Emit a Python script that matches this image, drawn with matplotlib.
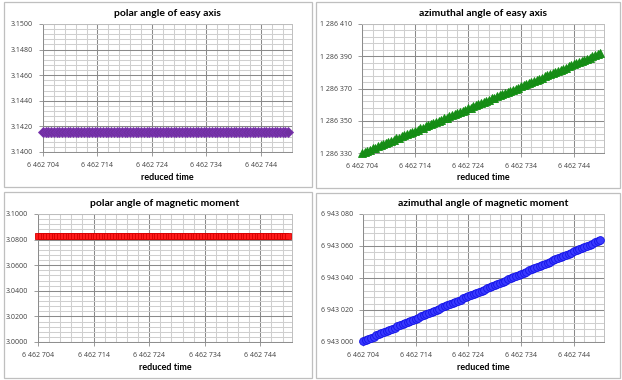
import matplotlib
matplotlib.use("Agg")
import matplotlib.pyplot as plt
from matplotlib.patches import Rectangle
from matplotlib.ticker import FixedLocator, FuncFormatter

plt.rcParams['font.family'] = ['Lato', 'DejaVu Sans']

# ---------------- data ----------------
reduced_time = [
    6462704.0, 6462704.5, 6462705.0, 6462705.5, 6462706.0, 6462706.5, 6462707.0, 6462707.5, 6462708.0, 6462708.5,
    6462709.0, 6462709.5, 6462710.0, 6462710.5, 6462711.0, 6462711.5, 6462712.0, 6462712.5, 6462713.0, 6462713.5,
    6462714.0, 6462714.5, 6462715.0, 6462715.5, 6462716.0, 6462716.5, 6462717.0, 6462717.5, 6462718.0, 6462718.5,
    6462719.0, 6462719.5, 6462720.0, 6462720.5, 6462721.0, 6462721.5, 6462722.0, 6462722.5, 6462723.0, 6462723.5,
    6462724.0, 6462724.5, 6462725.0, 6462725.5, 6462726.0, 6462726.5, 6462727.0, 6462727.5, 6462728.0, 6462728.5,
    6462729.0, 6462729.5, 6462730.0, 6462730.5, 6462731.0, 6462731.5, 6462732.0, 6462732.5, 6462733.0, 6462733.5,
    6462734.0, 6462734.5, 6462735.0, 6462735.5, 6462736.0, 6462736.5, 6462737.0, 6462737.5, 6462738.0, 6462738.5,
    6462739.0, 6462739.5, 6462740.0, 6462740.5, 6462741.0, 6462741.5, 6462742.0, 6462742.5, 6462743.0, 6462743.5,
    6462744.0, 6462744.5, 6462745.0, 6462745.5, 6462746.0, 6462746.5, 6462747.0, 6462747.5, 6462748.0, 6462748.5,
    6462749.0,
]

polar_easy = [
    3.1416, 3.1416, 3.1416, 3.1416, 3.1416, 3.1416, 3.1416, 3.1416, 3.1416, 3.1416,
    3.1416, 3.1416, 3.1416, 3.1416, 3.1416, 3.1416, 3.1416, 3.1416, 3.1416, 3.1416,
    3.1416, 3.1416, 3.1416, 3.1416, 3.1416, 3.1416, 3.1416, 3.1416, 3.1416, 3.1416,
    3.1416, 3.1416, 3.1416, 3.1416, 3.1416, 3.1416, 3.1416, 3.1416, 3.1416, 3.1416,
    3.1416, 3.1416, 3.1416, 3.1416, 3.1416, 3.1416, 3.1416, 3.1416, 3.1416, 3.1416,
    3.1416, 3.1416, 3.1416, 3.1416, 3.1416, 3.1416, 3.1416, 3.1416, 3.1416, 3.1416,
    3.1416, 3.1416, 3.1416, 3.1416, 3.1416, 3.1416, 3.1416, 3.1416, 3.1416, 3.1416,
    3.1416, 3.1416, 3.1416, 3.1416, 3.1416, 3.1416, 3.1416, 3.1416, 3.1416, 3.1416,
    3.1416, 3.1416, 3.1416, 3.1416, 3.1416, 3.1416, 3.1416, 3.1416, 3.1416, 3.1416,
    3.1416,
]

azimuthal_easy = [
    1286330.0, 1286330.7, 1286331.4, 1286332.1, 1286332.8, 1286333.4, 1286334.1, 1286334.8, 1286335.5, 1286336.2,
    1286336.9, 1286337.6, 1286338.3, 1286339.0, 1286339.6, 1286340.3, 1286341.0, 1286341.7, 1286342.4, 1286343.1,
    1286343.8, 1286344.5, 1286345.2, 1286345.8, 1286346.5, 1286347.2, 1286347.9, 1286348.6, 1286349.3, 1286350.0,
    1286350.7, 1286351.4, 1286352.0, 1286352.7, 1286353.4, 1286354.1, 1286354.8, 1286355.5, 1286356.2, 1286356.9,
    1286357.6, 1286358.2, 1286358.9, 1286359.6, 1286360.3, 1286361.0, 1286361.7, 1286362.4, 1286363.1, 1286363.8,
    1286364.4, 1286365.1, 1286365.8, 1286366.5, 1286367.2, 1286367.9, 1286368.6, 1286369.3, 1286370.0, 1286370.6,
    1286371.3, 1286372.0, 1286372.7, 1286373.4, 1286374.1, 1286374.8, 1286375.5, 1286376.2, 1286376.8, 1286377.5,
    1286378.2, 1286378.9, 1286379.6, 1286380.3, 1286381.0, 1286381.7, 1286382.4, 1286383.0, 1286383.7, 1286384.4,
    1286385.1, 1286385.8, 1286386.5, 1286387.2, 1286387.9, 1286388.6, 1286389.2, 1286389.9, 1286390.6, 1286391.3,
    1286392.0,
]

polar_moment = [
    3.0832, 3.0832, 3.0832, 3.0832, 3.0832, 3.0832, 3.0832, 3.0832, 3.0832, 3.0832,
    3.0832, 3.0832, 3.0832, 3.0832, 3.0832, 3.0832, 3.0832, 3.0832, 3.0832, 3.0832,
    3.0832, 3.0832, 3.0832, 3.0832, 3.0832, 3.0832, 3.0832, 3.0832, 3.0832, 3.0832,
    3.0832, 3.0832, 3.0832, 3.0832, 3.0832, 3.0832, 3.0832, 3.0832, 3.0832, 3.0832,
    3.0832, 3.0832, 3.0832, 3.0832, 3.0832, 3.0832, 3.0832, 3.0832, 3.0832, 3.0832,
    3.0832, 3.0832, 3.0832, 3.0832, 3.0832, 3.0832, 3.0832, 3.0832, 3.0832, 3.0832,
    3.0832, 3.0832, 3.0832, 3.0832, 3.0832, 3.0832, 3.0832, 3.0832, 3.0832, 3.0832,
    3.0832, 3.0832, 3.0832, 3.0832, 3.0832, 3.0832, 3.0832, 3.0832, 3.0832, 3.0832,
    3.0832, 3.0832, 3.0832, 3.0832, 3.0832, 3.0832, 3.0832, 3.0832, 3.0832, 3.0832,
    3.0832,
]

azimuthal_moment = [
    6943000.6, 6943001.3, 6943002.0, 6943002.7, 6943003.4, 6943004.1, 6943004.8, 6943005.5, 6943006.2, 6943006.9,
    6943007.6, 6943008.3, 6943009.0, 6943009.7, 6943010.4, 6943011.1, 6943011.8, 6943012.5, 6943013.2, 6943013.9,
    6943014.6, 6943015.3, 6943016.0, 6943016.7, 6943017.4, 6943018.1, 6943018.8, 6943019.5, 6943020.2, 6943020.9,
    6943021.6, 6943022.3, 6943023.0, 6943023.7, 6943024.4, 6943025.1, 6943025.8, 6943026.5, 6943027.2, 6943027.9,
    6943028.6, 6943029.3, 6943030.0, 6943030.7, 6943031.4, 6943032.1, 6943032.8, 6943033.5, 6943034.2, 6943034.9,
    6943035.6, 6943036.3, 6943037.0, 6943037.7, 6943038.4, 6943039.1, 6943039.8, 6943040.5, 6943041.2, 6943041.9,
    6943042.6, 6943043.3, 6943044.0, 6943044.7, 6943045.4, 6943046.1, 6943046.8, 6943047.5, 6943048.2, 6943048.9,
    6943049.6, 6943050.3, 6943051.0, 6943051.7, 6943052.4, 6943053.1, 6943053.8, 6943054.5, 6943055.2, 6943055.9,
    6943056.6, 6943057.3, 6943058.0, 6943058.7, 6943059.4, 6943060.1, 6943060.8, 6943061.5, 6943062.2, 6943062.9,
    6943063.6,
]

titles = ["polar angle of easy axis", "azimuthal angle of easy axis",
          "polar angle of magnetic moment", "azimuthal angle of magnetic moment"]
x_label = "reduced time"
x_ticks = [6462704, 6462714, 6462724, 6462734, 6462744]
y_ticks_polar_easy = [3.1400, 3.1420, 3.1440, 3.1460, 3.1480, 3.1500]
y_ticks_az_easy = [1286330, 1286350, 1286370, 1286390, 1286410]
y_ticks_polar_moment = [3.0000, 3.0200, 3.0400, 3.0600, 3.0800, 3.1000]
y_ticks_az_moment = [6943000, 6943020, 6943040, 6943060, 6943080]

# ---------------- layout ----------------
W, H = 622, 380
fig = plt.figure(figsize=(W / 100, H / 100), dpi=100)
fig.patch.set_facecolor("white")


def fbox(l, t, r, b):
    return [l / W, 1 - b / H, (r - l) / W, (b - t) / H]


panels = [(4, 2, 312, 187), (316, 2, 620, 188), (4, 192, 312, 378), (316, 193, 620, 378)]
for (l, t, r, b) in panels:
    fig.patches.append(Rectangle((l / W, 1 - b / H), (r - l) / W, (b - t) / H,
                                 transform=fig.transFigure, fill=False,
                                 edgecolor="#bfbfbf", linewidth=0.9))

axes_boxes = [(43, 24, 292, 152), (362, 24, 604, 153), (38, 214, 292, 342), (363, 214, 604, 342)]


def fmt_big(v, p):
    return f"{v:,.0f}".replace(",", " ")


def fmt_small(v, p):
    return f"{v:.4f}"


series = [
    (polar_easy, y_ticks_polar_easy, 0.0004, "D", "#7030a0", "#7a34b0", 4.8, fmt_small),
    (azimuthal_easy, y_ticks_az_easy, 4, "^", "#1b8a1b", "#118f11", 6.0, fmt_big),
    (polar_moment, y_ticks_polar_moment, 0.004, "s", "#ff1a1a", "#d40000", 4.8, fmt_small),
    (azimuthal_moment, y_ticks_az_moment, 4, "o", "#3a3aff", "#1414e6", 5.6, fmt_big),
]

x_min, x_max = 6462704, 6462749.7
x_minor = list(range(6462704, 6462750, 2))
tick_font = ['Open Sans', 'DejaVu Sans']

for i, (box, (yvals, yt, ystep, mk, fc, ec, ms, yfmt)) in enumerate(zip(axes_boxes, series)):
    ax = fig.add_axes(fbox(*box))
    ax.set_xlim(x_min, x_max)
    ax.set_ylim(yt[0], yt[-1])
    y_minor = [yt[0] + ystep * k for k in range(int(round((yt[-1] - yt[0]) / ystep)) + 1)]
    ax.xaxis.set_major_locator(FixedLocator(x_ticks))
    ax.xaxis.set_minor_locator(FixedLocator(x_minor))
    ax.yaxis.set_major_locator(FixedLocator(yt))
    ax.yaxis.set_minor_locator(FixedLocator(y_minor))
    ax.xaxis.set_major_formatter(FuncFormatter(fmt_big))
    ax.yaxis.set_major_formatter(FuncFormatter(yfmt))
    ax.grid(which="minor", color="#cfcfcf", linewidth=0.75)
    ax.grid(which="major", color="#8a8a8a", linewidth=0.75)
    ax.set_axisbelow(True)
    ax.tick_params(which="major", direction="out", length=3, width=0.6, color="#8c8c8c",
                   labelsize=5.0, labelcolor="#404040", pad=4)
    ax.tick_params(which="minor", length=0)
    for lab in ax.get_xticklabels() + ax.get_yticklabels():
        lab.set_family(tick_font)
    for s in ax.spines.values():
        s.set_color("#bfbfbf")
        s.set_linewidth(0.7)
    ax.spines["left"].set_color("#8c8c8c")
    ax.spines["bottom"].set_color("#8c8c8c")
    ax.plot(reduced_time, yvals, linestyle="none", marker=mk, markersize=ms,
            markerfacecolor=fc, markeredgecolor=ec, markeredgewidth=0.6, clip_on=False, zorder=3)

    l, t, r, b = panels[i]
    axl, axt, axr, axb = box
    fig.text(((axl + axr) / 2) / W, 1 - (t + 11) / H, titles[i], ha="center", va="center",
             fontsize=7.5, fontweight="bold", color="#000000")
    fig.text(((axl + axr) / 2) / W, 1 - (b - 10) / H, x_label, ha="center", va="center",
             fontsize=6.5, fontweight="bold", color="#000000")

fig.savefig("out.png", dpi=100)
